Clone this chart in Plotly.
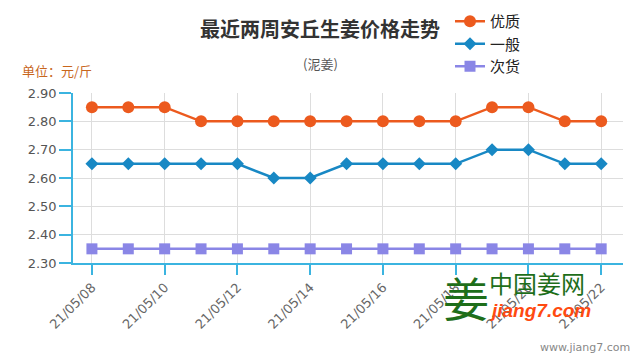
import plotly.graph_objects as go

dates = ["21/05/08", "21/05/09", "21/05/10", "21/05/11", "21/05/12", "21/05/13", "21/05/14",
         "21/05/15", "21/05/16", "21/05/17", "21/05/18", "21/05/19", "21/05/20", "21/05/21", "21/05/22"]
youzhi = [2.85, 2.85, 2.85, 2.80, 2.80, 2.80, 2.80, 2.80, 2.80, 2.80, 2.80, 2.85, 2.85, 2.80, 2.80]
yiban = [2.65, 2.65, 2.65, 2.65, 2.65, 2.60, 2.60, 2.65, 2.65, 2.65, 2.65, 2.70, 2.70, 2.65, 2.65]
cihuo = [2.35] * 15
y_ticks = [2.30, 2.40, 2.50, 2.60, 2.70, 2.80, 2.90]

FONT = "Noto Sans CJK SC, sans-serif"
NUMFONT = "DejaVu Sans, sans-serif"
AXIS = "#3BB4E0"
idx = list(range(len(dates)))

fig = go.Figure()
fig.add_trace(go.Scatter(x=idx, y=youzhi, name="优质", mode="lines+markers",
                         line=dict(color="#EC5A1E", width=2.5),
                         marker=dict(symbol="circle", size=12, color="#EC5A1E")))
fig.add_trace(go.Scatter(x=idx, y=yiban, name="一般", mode="lines+markers",
                         line=dict(color="#1888C4", width=2.5),
                         marker=dict(symbol="diamond", size=10, color="#1888C4")))
fig.add_trace(go.Scatter(x=idx, y=cihuo, name="次货", mode="lines+markers",
                         line=dict(color="#8A86E6", width=2.5),
                         marker=dict(symbol="square", size=11, color="#8A86E6")))

fig.update_layout(
    width=640, height=360,
    margin=dict(l=73, r=17, t=93, b=97, autoexpand=False),
    paper_bgcolor="white", plot_bgcolor="white",
    font=dict(family=FONT, color="#555"),
    showlegend=True,
    legend=dict(xref="container", yref="container", x=450 / 640, xanchor="left",
                y=1 - 5 / 360, yanchor="top",
                font=dict(size=15, color="#222", family=FONT),
                bgcolor="rgba(0,0,0,0)", itemwidth=30, tracegroupgap=0),
    xaxis=dict(range=[-0.52, 14.6], tickmode="array",
               tickvals=idx[::2], ticktext=dates[::2],
               tickangle=-45, tickfont=dict(size=13, color="#666", family=NUMFONT),
               showgrid=True, gridcolor="#DDDDDD", gridwidth=1,
               showline=True, linecolor=AXIS, linewidth=1.5,
               ticks="outside", ticklen=10, tickcolor=AXIS, tickwidth=1.5,
               zeroline=False, fixedrange=True, automargin=False),
    yaxis=dict(range=[2.30, 2.90], tickmode="array", tickvals=y_ticks,
               ticktext=[f"{v:.2f}" for v in y_ticks],
               tickfont=dict(size=13, color="#555", family=NUMFONT),
               showgrid=True, gridcolor="#DDDDDD", gridwidth=1,
               showline=True, linecolor=AXIS, linewidth=1.5,
               ticks="outside", ticklen=12, tickcolor=AXIS, tickwidth=1.5,
               zeroline=False, fixedrange=True, automargin=False),
)

annotations = [
    dict(text="<b>最近两周安丘生姜价格走势</b>", x=320, y=28, xa="center", fam=FONT, font=dict(size=20, color="#333")),
    dict(text="(泥姜)", x=320, y=64, xa="center", fam=FONT, font=dict(size=13, color="#555")),
    dict(text="单位：元/斤", x=20, y=70, xa="left", fam=FONT, font=dict(size=13, color="#C8661C")),
    dict(text="姜", x=466, y=296, xa="center", fam=FONT, font=dict(size=46, color="#1E6E1A")),
    dict(text="中国姜网", x=487, y=282, xa="left", fam=FONT, font=dict(size=24, color="#1E6E1A")),
    dict(text="<b><i>jiang7.com</i></b>", x=487, y=310, xa="left", fam="Liberation Sans, Arial, sans-serif",
         font=dict(size=19, color="#FF4A10")),
    dict(text="www.jiang7.com", x=632, y=347, xa="right", fam=NUMFONT, font=dict(size=11, color="#888")),
]
for a in annotations:
    fig.add_annotation(xref="paper", yref="paper",
                       x=(a["x"] - 73) / 550, y=(263 - a["y"]) / 170,
                       xanchor=a["xa"], yanchor="middle", showarrow=False,
                       text=a["text"], font=dict(family=a["fam"], **a["font"]))

fig.write_html("out.html", config={"displayModeBar": False},
               post_script="document.body.style.margin='0';")
